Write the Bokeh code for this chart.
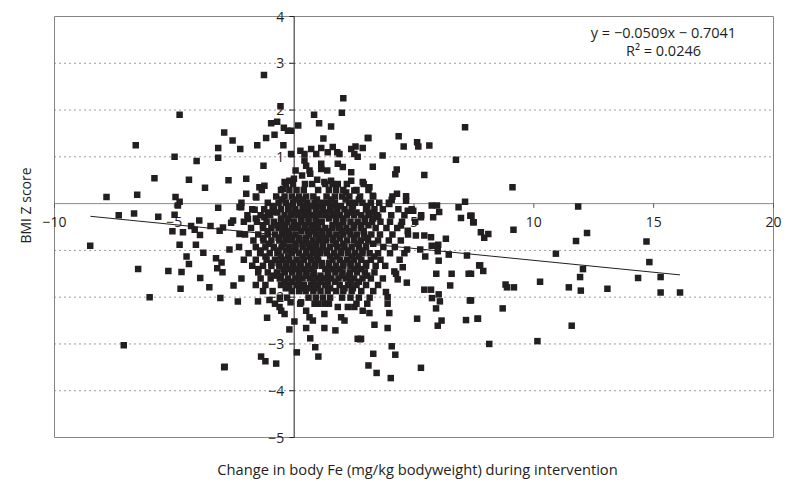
import math
from bokeh.plotting import figure
from bokeh.models import Range1d, Label
from bokeh.core.properties import value
from bokeh.embed import file_html
from bokeh.resources import INLINE

# ---------------- data ----------------
# sparse / outlying points
outer_x = [
    -4.78, -6.61, -4.99, -4.07, -2.92, -2.57, -3.17, -3.17, -2.25, -5.83, -4.39, -3.72, -2.74,
    -7.83, -6.55, -4.95, -4.78, -4.85, -3.17, -2.28, -7.32, -6.68, -5.67, -4.99, -3.96, -2.55,
    -5.08, -4.64, -4.30, -4.15, -3.93, -3.49, -3.11, -2.97, -2.63, -2.28, -8.51, -4.78, -4.10,
    -3.79, -2.70, -4.49, -4.39, -3.26, -3.03, -3.21, -2.99, -6.51, -5.25, -4.70, -3.92, -4.74,
    -3.54, -2.53, -6.03, -3.08, -2.35, -7.11, -2.92,
    -1.26, -0.57, -0.96, -0.71, -0.82, -0.43, -0.26, -0.13, -1.17, -0.45, -1.54, -0.13, -1.28,
    0.17, 0.83, 1.04, 1.54, 2.05, 1.99, 3.07, 3.69, 3.28, 1.22, 0.71, 1.13, 1.61, 1.80, 2.38,
    2.56, 2.65, 2.86,
    0.26, 0.43, 0.92, 1.40, 1.89, 2.51, 0.43, 0.50, 0.64, 1.13, 1.13, 1.38, 1.82, 2.03, 2.38,
    0.06, 0.33, 0.67, 0.96, -2.00, -1.45, -1.24, -0.40, -0.20, -0.01, -0.47, -2.00, -1.58,
    1.26, 1.54, 1.82, 2.38, 2.17, 2.51, -2.21, -1.65, -1.93, -1.24, -0.89,
    7.13, 3.10, 4.36, 4.57, 5.13, 5.18, 5.64, 6.75, 4.28, 4.22, 5.43, 2.86, 3.14, 3.28, 4.29,
    4.07, 4.67, 4.67, 3.97, 4.74, 4.97, 5.74, 5.96, 6.05, 5.80, 7.13, 6.86, 7.35, 6.96, 7.47,
    5.29, 3.51, 4.46, 4.74, 5.08, 5.43, 5.71, 6.33,
    4.71, 5.26, 5.47, 5.74, 6.01, 5.99, 6.03, 6.45, 7.21, 7.72, 5.93, 6.57, 7.28, 6.51, 4.70,
    4.32, 5.43, 5.71, 6.03, 5.75, 6.08, 5.92, 7.33, 5.13, 6.15, 5.99, 7.17, 7.65, 3.90, 3.35,
    3.97, 3.14, 2.86, 2.79, 4.07, 3.30, 4.22, 3.10, 5.29, 4.53, 4.18, 4.25, 3.90, 3.90, 3.83,
    9.11, 11.85, 7.49, 7.40, 7.79, 8.10, 7.93, 9.15, 12.22, 11.76, 14.70, 10.92, 14.82, 7.76,
    7.89, 7.38, 12.05, 11.93, 14.35, 15.29, 10.26, 8.82, 8.88, 9.17, 11.46, 11.96, 13.07,
    15.29, 16.10, 7.38, 8.70, 7.67, 11.58, 8.14, 10.15,
    -1.51, -1.03, -1.13, 0.01, -0.20, 0.50, 0.67, 1.26, 1.72, 0.88, 0.11, 1.01, -1.38, -1.20,
    -0.75, 2.65, 1.26, 0.78, 1.96, 2.10, -0.54, -0.40, -0.61, 0.50, 0.64, 1.82, 2.24, 2.51,
    -0.15, 0.29, 0.99, 1.26,
    2.75, 3.44, 4.03, -2.90,
]
outer_y = [
    1.90, 1.25, 1.00, 0.91, 1.52, 1.35, 1.19, 0.98, 1.17, 0.54, 0.51, 0.34, 0.50,
    0.14, 0.19, 0.14, 0.04, -0.04, -0.09, -0.07, -0.25, -0.21, -0.28, -0.24, -0.36, -0.36,
    -0.59, -0.61, -0.48, -0.56, -0.67, -0.48, -0.58, -0.51, -0.41, -0.65, -0.90, -0.88, -0.88,
    -1.05, -0.98, -1.13, -1.29, -1.17, -1.26, -1.38, -1.47, -1.40, -1.44, -1.46, -1.59, -1.82,
    -1.79, -1.75, -2.00, -2.02, -2.09, -3.03, -3.50,
    2.75, 2.08, 1.72, 1.75, 1.47, 1.62, 1.56, 1.56, 1.40, 1.25, 1.25, 1.06, 0.81,
    1.67, 1.90, 1.72, 1.65, 2.25, 1.94, 1.40, 1.03, 0.79, 1.39, 1.17, 1.19, 1.21, 1.10, 1.17,
    1.22, 1.00, 1.19,
    1.13, 1.06, 1.06, 1.10, 1.06, 1.06, 0.92, 0.81, 0.71, 0.85, 0.74, 0.71, 0.85, 0.78, 0.67,
    0.71, 0.60, 0.64, 0.51, 0.53, 0.35, 0.38, 0.46, 0.49, 0.53, 0.31, 0.21, 0.13,
    0.46, 0.49, 0.42, 0.49, 0.24, 0.28, -0.08, -0.13, -0.33, -0.29, -0.18,
    1.63, 1.40, 1.44, 1.22, 1.31, 1.22, 1.24, 0.94, 0.73, 0.63, 0.61, 0.46, 0.35, 0.17, 0.21,
    0.08, 0.16, 0.06, -0.01, -0.15, -0.15, -0.04, -0.04, -0.18, -0.29, 0.04, -0.08, -0.26, -0.31, -0.40,
    -0.29, -0.28, -0.47, -0.58, -0.68, -0.68, -0.72, -0.75,
    -0.98, -0.98, -1.13, -0.90, -0.88, -1.02, -1.22, -1.09, -1.11, -1.32, -1.50, -1.50, -1.50, -1.75, -1.69,
    -1.62, -1.84, -1.84, -1.94, -2.02, -2.09, -2.24, -2.07, -2.46, -2.50, -2.61, -2.49, -2.46, -2.66, -2.59,
    -2.34, -2.34, -2.29, -2.89, -3.05, -3.21, -3.23, -3.46, -3.51, -1.36, -1.45, -1.50, -2.14, -2.00, -1.89,
    0.35, -0.06, -0.40, -0.26, -0.61, -0.65, -0.73, -0.56, -0.63, -0.80, -0.81, -1.07, -1.25, -1.32,
    -1.44, -1.50, -1.40, -1.57, -1.59, -1.57, -1.67, -1.73, -1.79, -1.79, -1.79, -1.86, -1.82,
    -1.90, -1.90, -2.07, -2.24, -2.46, -2.61, -3.00, -2.94,
    -2.09, -2.06, -2.44, -2.52, -2.69, -2.66, -2.88, -2.66, -2.71, -3.07, -3.18, -3.27, -3.27, -3.37,
    -3.42, -2.89, -2.36, -2.50, -2.43, -2.50, -2.29, -2.36, -2.21, -2.29, -2.43, -2.21, -2.21, -2.21,
    -2.11, -2.11, -2.14, -2.14,
    -2.90, -3.62, -3.73, -3.49,
]

# dense central cloud, read row by row (BMI Z level of each row, Fe change values in it)
core_row_y = [0.42, 0.29, 0.15, 0.02, -0.12, -0.25, -0.39, -0.52, -0.66, -0.79,
              -0.93, -1.06, -1.20, -1.33, -1.47, -1.60, -1.74, -1.87, -2.01, -2.14]
core_row_x = [
    [-0.35, -0.05, 0.45, 0.75, 1.3, 1.6, 2.2, 2.9],
    [-1.35, -0.55, -0.2, 0.1, 0.4, 1.0, 1.45, 1.75, 2.05, 2.6, 3.1],
    [-1.6, -0.75, -0.4, -0.1, 0.2, 0.5, 0.8, 1.35, 1.7, 2.0, 2.3, 2.75, 3.3, 4.1],
    [-2.2, -1.1, -0.65, -0.35, -0.05, 0.25, 0.55, 0.85, 1.15, 1.4, 1.7, 2.3, 2.55, 2.85, 3.2, 3.55, 3.95],
    [-1.75, -1.25, -0.85, -0.55, -0.25, 0.05, 0.35, 0.6, 0.9, 1.2, 1.5, 1.8, 2.1, 2.4, 3.0, 3.35, 3.7, 4.35, 4.9],
    [-1.95, -1.4, -1.0, -0.4, -0.12, 0.15, 0.45, 0.75, 1.05, 1.3, 1.6, 1.9, 2.2, 2.5, 2.8, 3.1, 3.45, 4.05, 4.6, 5.3],
    [-2.1, -1.55, -1.15, -0.85, -0.55, -0.28, 0.0, 0.3, 0.6, 0.9, 1.15, 1.75, 2.05, 2.35, 2.65, 2.95, 3.25, 3.6, 4.0, 4.5, 5.05],
    [-1.8, -1.3, -0.95, -0.65, -0.38, -0.1, 0.17, 0.45, 0.72, 1.0, 1.3, 1.6, 1.88, 2.18, 2.48, 2.78, 3.4, 3.85, 4.3],
    [-2.05, -1.5, -1.1, -0.8, -0.5, -0.22, 0.05, 0.62, 0.9, 1.18, 1.47, 1.76, 2.05, 2.35, 2.62, 2.92, 3.22, 3.58, 4.1, 4.75],
    [-1.7, -1.28, -0.95, -0.62, -0.35, -0.08, 0.2, 0.48, 0.77, 1.05, 1.33, 1.62, 2.2, 2.5, 2.78, 3.08, 3.5, 3.95, 4.45],
    [-2.3, -1.6, -1.2, -0.85, -0.52, -0.22, 0.06, 0.35, 0.65, 0.92, 1.2, 1.5, 1.8, 2.1, 2.4, 2.7, 3.0, 3.72, 4.2],
    [-1.9, -1.42, -1.02, -0.7, -0.1, 0.2, 0.5, 0.8, 1.08, 1.36, 1.66, 1.96, 2.25, 2.55, 2.85, 3.15, 3.5, 4.0, 4.6],
    [-2.1, -1.6, -1.15, -0.8, -0.5, -0.2, 0.1, 0.4, 0.7, 1.0, 1.6, 1.9, 2.2, 2.5, 2.8, 3.2, 3.6, 4.4],
    [-1.75, -1.3, -0.95, -0.62, -0.32, -0.03, 0.27, 0.57, 0.87, 1.15, 1.45, 1.75, 2.05, 2.35, 2.65, 3.0, 3.4, 3.8],
    [-1.5, -1.1, -0.72, -0.38, -0.08, 0.22, 0.52, 0.82, 1.42, 1.72, 2.02, 2.32, 2.62, 2.95, 3.35],
    [-2.2, -1.4, -0.98, -0.6, -0.25, 0.05, 0.35, 0.65, 0.95, 1.25, 1.55, 1.85, 2.15, 2.5, 2.85, 3.2, 3.7],
    [-1.6, -1.2, -0.55, -0.2, 0.1, 0.4, 0.7, 1.0, 1.3, 1.9, 2.25, 2.6, 3.0, 3.5],
    [-1.3, -0.9, -0.1, 0.2, 0.48, 0.8, 1.1, 1.4, 1.75, 2.05, 2.4, 2.8, 3.3],
    [-0.6, -0.3, 0.6, 0.9, 1.2, 1.5, 2.0, 2.35, 2.7, 3.15],
    [-0.8, 0.25, 0.85, 1.45, 2.6, 3.05],
]
# in-between rows of the darkest part of the cloud
core2_row_y = [0.09, -0.05, -0.19, -0.32, -0.46, -0.59, -0.73, -0.86,
               -1.00, -1.13, -1.27, -1.40, -1.54, -1.67, -1.81]
core2_row_x = [
    [-0.5, 0.05, 0.35, 0.95, 1.55, 2.15, 2.7],
    [-0.9, -0.2, 0.4, 0.75, 1.05, 1.6, 1.95, 2.45, 3.05],
    [-1.1, -0.7, -0.1, 0.2, 0.5, 1.0, 1.35, 1.65, 2.25, 2.6, 3.2],
    [-1.6, -0.55, -0.25, 0.3, 0.6, 0.9, 1.45, 1.75, 2.05, 2.95, 3.3],
    [-1.3, -0.7, -0.4, 0.15, 0.45, 0.75, 1.0, 1.6, 1.9, 2.5, 2.8, 3.1],
    [-1.1, -0.5, -0.25, 0.3, 0.58, 0.85, 1.15, 1.45, 2.0, 2.3, 2.9],
    [-1.3, -0.65, -0.35, -0.1, 0.2, 0.48, 1.05, 1.32, 1.62, 1.9, 2.5, 3.05],
    [-1.05, -0.45, 0.05, 0.35, 0.62, 0.9, 1.2, 1.75, 2.05, 2.65, 3.3],
    [-1.4, -0.65, -0.35, -0.05, 0.5, 0.78, 1.05, 1.35, 1.95, 2.25, 2.85],
    [-1.2, -0.55, -0.25, 0.35, 0.65, 0.95, 1.5, 1.8, 2.4, 2.7, 3.35],
    [-0.95, -0.65, -0.35, -0.05, 0.25, 0.85, 1.15, 1.45, 2.05, 2.35, 3.0],
    [-1.5, -0.45, -0.15, 0.12, 0.42, 0.72, 1.3, 1.6, 1.9, 2.5, 2.8],
    [-0.85, -0.55, 0.2, 0.5, 0.8, 1.1, 1.4, 2.0, 2.3, 3.05],
    [-0.4, -0.1, 0.2, 0.8, 1.1, 1.4, 1.7, 2.35, 2.7],
    [-0.35, 0.25, 0.55, 0.85, 1.5, 2.1, 2.45],
]

# linear trend line (Excel)
trend_slope = -0.0509
trend_intercept = -0.7041
trend_x = [-8.5, 16.1]
eq_text = "y = \u22120.0509x \u2212 0.7041"
r2_text = "R\u00b2 = 0.0246"

x_axis_range = [-10, 20]
y_axis_range = [-5, 4]
x_ticks = [-10, -5, 5, 10, 15, 20]
x_tick_labels = ["\u221210", "\u22125", "5", "10", "15", "20"]
y_ticks = [4, 3, 2, 1, -1, -2, -3, -4, -5]
y_tick_labels = ["4", "3", "2", "1", "\u22121", "\u22122", "\u22123", "\u22124", "\u22125"]
grid_levels = [3, 2, 1, -1, -2, -3, -4]

x_title = "Change in body Fe (mg/kg bodyweight) during intervention"
y_title = "BMI Z score"

# ---------------- assemble ----------------
pts_x = list(outer_x)
pts_y = list(outer_y)
for rows_y, rows_x in ((core_row_y, core_row_x), (core2_row_y, core2_row_x)):
    for yy, row in zip(rows_y, rows_x):
        pts_x.extend(row)
        pts_y.extend([yy] * len(row))

INK = "#231f20"
FONT = "Open Sans"

W, H = 789, 483
# plot-area placement inside the canvas (pixels)
left_px, right_px, top_px, bottom_px = 54, 773, 16, 437
xs = (right_px - left_px) / (x_axis_range[1] - x_axis_range[0])
ys = (bottom_px - top_px) / (y_axis_range[1] - y_axis_range[0])
xr = Range1d(x_axis_range[0] - left_px / xs, x_axis_range[1] + (W - right_px) / xs)
yr = Range1d(y_axis_range[0] - (H - bottom_px) / ys, y_axis_range[1] + top_px / ys)

p = figure(width=W, height=H, x_range=xr, y_range=yr,
           x_axis_type=None, y_axis_type=None,
           output_backend="svg", toolbar_location=None,
           min_border_left=0, min_border_right=0, min_border_top=0, min_border_bottom=0)
p.outline_line_color = None
p.background_fill_color = "white"
p.border_fill_color = "white"

# gridlines
n = len(grid_levels)
p.segment(x0=[x_axis_range[0]] * n, x1=[x_axis_range[1]] * n, y0=grid_levels, y1=grid_levels,
          line_color="#3a3a3a", line_width=1, line_dash="1 4")
# plot-area frame
p.quad(left=[x_axis_range[0]], right=[x_axis_range[1]], bottom=[y_axis_range[0]], top=[y_axis_range[1]],
       fill_color=None, line_color="#858585", line_width=1)
# axes crossing at the origin
p.segment(x0=[x_axis_range[0]], x1=[x_axis_range[1]], y0=[0], y1=[0], line_color="#8a8a8a", line_width=1)
p.segment(x0=[0], x1=[0], y0=[y_axis_range[0]], y1=[y_axis_range[1]], line_color=INK, line_width=1)

# tick marks
p.segment(x0=x_ticks, y0=[0] * len(x_ticks), x1=x_ticks, y1=[-0.09] * len(x_ticks),
          line_color="#555555", line_width=1)
p.segment(x0=[0] * len(y_ticks), y0=y_ticks, x1=[-0.2] * len(y_ticks), y1=y_ticks,
          line_color=INK, line_width=1)

# tick labels (under the points, as in the original)
p.text(x=x_ticks, y=[0] * len(x_ticks), text=x_tick_labels, y_offset=18,
       text_align="center", text_baseline="middle",
       text_font=value(FONT), text_font_size="14px", text_color=INK)
p.text(x=[0] * len(y_ticks), y=y_ticks, text=y_tick_labels, x_offset=-10,
       text_align="right", text_baseline="middle",
       text_font=value(FONT), text_font_size="14px", text_color=INK)

# points
p.scatter(pts_x, pts_y, marker="square", size=6.5, fill_color=INK, line_color=None)

# trend line
trend_y = [trend_slope * x + trend_intercept for x in trend_x]
p.line(trend_x, trend_y, line_color=INK, line_width=1)

# equation
p.add_layout(Label(x=15.41, y=3.664, text=eq_text, text_align="center", text_baseline="middle",
                   text_font=FONT, text_font_size="14.5px", text_color=INK))
p.add_layout(Label(x=15.41, y=3.273, text=r2_text, text_align="center", text_baseline="middle",
                   text_font=FONT, text_font_size="14.5px", text_color=INK))

# axis titles
p.add_layout(Label(x=5.146, y=-5.684, text=x_title, text_align="center", text_baseline="middle",
                   text_font=FONT, text_font_size="14.7px", text_color=INK))
p.add_layout(Label(x=-11.21, y=-0.04, text=y_title, angle=math.pi / 2, text_align="center",
                   text_baseline="middle", text_font=FONT, text_font_size="14px", text_color=INK))

open("out.html", "w").write(file_html(p, INLINE))
